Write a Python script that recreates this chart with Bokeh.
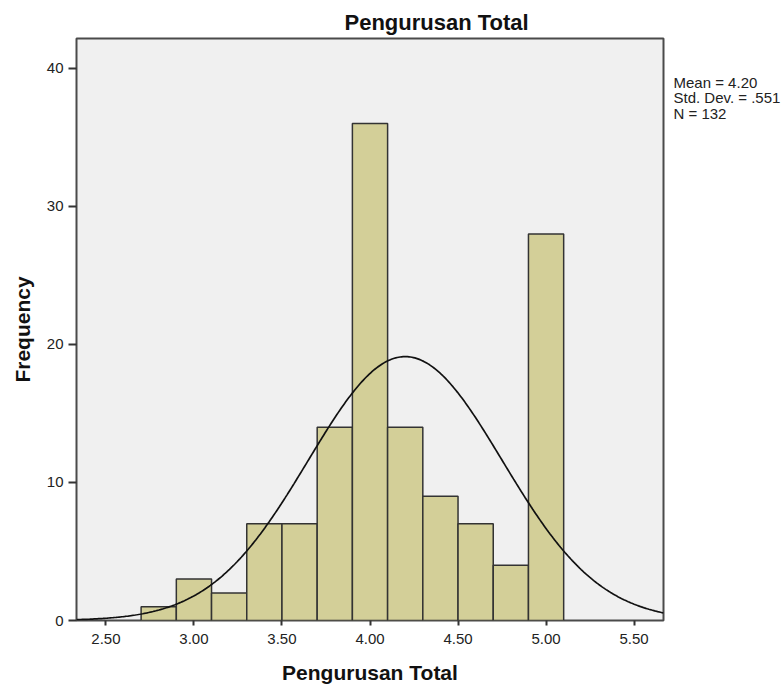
import numpy as np
from bokeh.plotting import figure
from bokeh.layouts import row
from bokeh.models import Range1d, FixedTicker, NumeralTickFormatter, Title
from bokeh.core.properties import value
from bokeh.embed import file_html
from bokeh.resources import INLINE

# ---- data ----
BIN_CENTERS = [2.8, 3.0, 3.2, 3.4, 3.6, 3.8, 4.0, 4.2, 4.4, 4.6, 4.8, 5.0]
COUNTS = [1, 3, 2, 7, 7, 14, 36, 14, 9, 7, 4, 28]
BIN_WIDTH = 0.2
X_TICKS = [2.5, 3.0, 3.5, 4.0, 4.5, 5.0, 5.5]
Y_TICKS = [0, 10, 20, 30, 40]
MEAN = 4.20
STD = 0.551
N = 132
STATS_LINES = ["Mean = 4.20", "Std. Dev. = .551", "N = 132"]
TITLE = "Pengurusan Total"
X_LABEL = "Pengurusan Total"
Y_LABEL = "Frequency"

FONT = "Liberation Sans"
X_MIN, X_MAX = 2.333, 5.667
Y_MIN, Y_MAX = 0, 42.16

MAIN_W, SIDE_W, H = 673, 111, 688
TOP, BOTTOM = 38, 68

p = figure(width=MAIN_W, height=H, output_backend="svg", toolbar_location=None,
           x_range=Range1d(X_MIN, X_MAX), y_range=Range1d(Y_MIN, Y_MAX),
           min_border_left=76, min_border_right=10, min_border_top=TOP,
           min_border_bottom=BOTTOM, title=None)

p.background_fill_color = "#f0f0f0"
p.border_fill_color = "white"
p.outline_line_color = "#4a4a4a"
p.outline_line_width = 2
p.xgrid.visible = False
p.ygrid.visible = False

# title
t = Title(text=TITLE, align="left", offset=268, text_font=FONT,
          text_font_size="22px", text_font_style="bold", text_color="#111111",
          standoff=8)
p.add_layout(t, "above")

# bars
p.vbar(x=BIN_CENTERS, width=BIN_WIDTH, top=COUNTS, bottom=0,
       fill_color="#d3cf98", line_color="#333333", line_width=1.5)

# fitted normal curve (from the stated mean, std. dev. and N)
xs = np.linspace(X_MIN, X_MAX, 400)
ys = N * BIN_WIDTH * np.exp(-0.5 * ((xs - MEAN) / STD) ** 2) / (STD * np.sqrt(2 * np.pi))
p.line(xs, ys, line_color="#111111", line_width=1.7)

# axes
for ax in (p.xaxis, p.yaxis):
    ax.axis_line_color = None
    ax.major_tick_line_color = "#333333"
    ax.major_tick_line_width = 2
    ax.minor_tick_line_color = None
    ax.major_tick_in = 0
    ax.major_label_text_font = FONT
    ax.major_label_text_font_size = "15px"
    ax.major_label_text_color = "#222222"
    ax.axis_label_text_font = FONT
    ax.axis_label_text_font_size = "21px"
    ax.axis_label_text_font_style = "bold"
    ax.axis_label_text_color = "#111111"

p.xaxis.ticker = FixedTicker(ticks=X_TICKS)
p.xaxis.formatter = NumeralTickFormatter(format="0.00")
p.xaxis.major_tick_out = 5
p.xaxis.major_label_standoff = 8
p.xaxis.axis_label = X_LABEL
p.xaxis.axis_label_standoff = 14

p.yaxis.ticker = FixedTicker(ticks=Y_TICKS)
p.yaxis.major_tick_out = 8
p.yaxis.major_label_standoff = 5
p.yaxis.axis_label = Y_LABEL
p.yaxis.axis_label_standoff = 10

# side panel holding the statistics text; its frame is aligned with the main
# frame (rows TOP .. H-BOTTOM), so the y range is expressed in canvas rows
s = figure(width=SIDE_W, height=H, output_backend="svg", toolbar_location=None,
           x_range=Range1d(0, SIDE_W), y_range=Range1d(H - BOTTOM, TOP),
           x_axis_location=None, y_axis_location=None,
           min_border_left=0, min_border_right=0, min_border_top=TOP,
           min_border_bottom=BOTTOM, title=None)
s.grid.visible = False
s.outline_line_color = None
s.background_fill_color = "white"
s.border_fill_color = "white"
s.text(x=[0, 0, 0], y=[81.7, 97, 112.7], text=STATS_LINES,
       text_font=value(FONT), text_font_size="15px", text_color="#222222",
       text_baseline="alphabetic", text_align="left")

layout = row(p, s)
open("out.html", "w").write(file_html(layout, INLINE))
